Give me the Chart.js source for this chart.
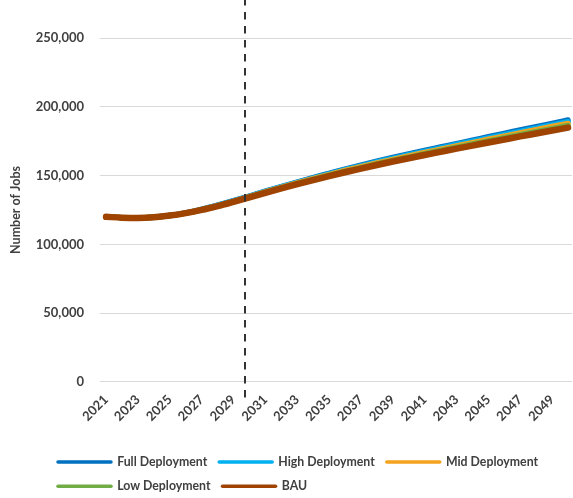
<!DOCTYPE html>
<html>
<head>
<meta charset="utf-8">
<script src="https://cdn.jsdelivr.net/npm/chart.js@4/dist/chart.umd.min.js"></script>
<style>
  html, body { margin: 0; padding: 0; background: #fff; overflow: hidden; }
  canvas { display: block; }
</style>
</head>
<body>
<canvas id="jobs" width="573" height="498"></canvas>
<script>
// Projection years
const years = [2021, 2022, 2023, 2024, 2025, 2026, 2027, 2028, 2029, 2030,
               2031, 2032, 2033, 2034, 2035, 2036, 2037, 2038, 2039, 2040,
               2041, 2042, 2043, 2044, 2045, 2046, 2047, 2048, 2049, 2050];

// Labelled years on the horizontal axis
const tickYears = [2021, 2023, 2025, 2027, 2029, 2031, 2033, 2035, 2037, 2039,
                   2041, 2043, 2045, 2047, 2049];

// Number of jobs per scenario
const fullDeployment = [120000, 119400, 119200, 119700, 121000, 122900, 125400, 128400, 131700, 135100,
                        138600, 142000, 145300, 148500, 151600, 154700, 157600, 160400, 163100, 165700,
                        168250, 170750, 173250, 175700, 178250, 180650, 183150, 185500, 187950, 190350];
const highDeployment = [120000, 119400, 119200, 119700, 121000, 122900, 125300, 128300, 131500, 134900,
                        138400, 141700, 145000, 148100, 151200, 154200, 157100, 159900, 162500, 165100,
                        167550, 170050, 172550, 174900, 177350, 179750, 182150, 184500, 186850, 189150];
const midDeployment  = [120000, 119400, 119200, 119700, 120900, 122800, 125200, 128100, 131300, 134600,
                        138100, 141400, 144600, 147700, 150700, 153700, 156500, 159200, 161800, 164300,
                        166750, 169150, 171550, 173900, 176350, 178650, 181050, 183300, 185650, 187850];
const lowDeployment  = [120000, 119400, 119200, 119700, 120900, 122700, 125100, 127900, 131100, 134400,
                        137700, 141000, 144100, 147200, 150200, 153000, 155800, 158400, 161000, 163400,
                        165850, 168250, 170550, 172900, 175150, 177450, 179750, 181900, 184150, 186350];
const bau            = [120000, 119400, 119200, 119700, 120900, 122700, 125000, 127800, 130900, 134100,
                        137400, 140600, 143700, 146700, 149600, 152400, 155100, 157700, 160200, 162600,
                        164950, 167250, 169550, 171800, 174050, 176250, 178450, 180600, 182750, 184850];

// Year at which the policy divider is drawn
const dividerYear = 2029.7;

const textColor = '#404040';
const fontFamily = 'Lato, "Open Sans", sans-serif';

function series(label, values, color, width, order) {
  return {
    label,
    data: years.map((y, i) => ({ x: y, y: values[i] })),
    borderColor: color,
    backgroundColor: color,
    borderWidth: width,
    pointRadius: 0,
    cubicInterpolationMode: 'monotone',
    borderCapStyle: 'round',
    borderJoinStyle: 'round',
    clip: false,
    order
  };
}

// Vertical dashed divider line
const dividerPlugin = {
  id: 'divider',
  afterDatasetsDraw(chart) {
    const { ctx, chartArea, scales } = chart;
    const x = Math.round(scales.x.getPixelForValue(dividerYear));
    ctx.save();
    ctx.strokeStyle = '#333333';
    ctx.lineWidth = 2;
    ctx.setLineDash([7.5, 6.5]);
    ctx.beginPath();
    ctx.moveTo(x, chartArea.top - 40);
    ctx.lineTo(x, chartArea.bottom + 16);
    ctx.stroke();
    ctx.restore();
  }
};

// Indent the legend block and nudge it down
const legendPlace = {
  id: 'legendPlace',
  afterLayout(chart) {
    const lg = chart.legend;
    if (lg) {
      lg.left += 46;
      lg.top += 4.5;
      lg.bottom += 4.5;
    }
  }
};

new Chart(document.getElementById('jobs'), {
  type: 'line',
  data: {
    datasets: [
      series('Full Deployment', fullDeployment, '#0070C0', 5.5, 4),
      series('High Deployment', highDeployment, '#00B0F0', 5.5, 3),
      series('Mid Deployment', midDeployment, '#F5A31F', 5.5, 2),
      series('Low Deployment', lowDeployment, '#70AD47', 5.5, 1),
      series('BAU', bau, '#9E4300', 6.5, 0)
    ]
  },
  options: {
    responsive: false,
    animation: false,
    events: [],
    layout: { padding: { top: 38, right: 1, left: 0, bottom: 0 } },
    plugins: {
      tooltip: { enabled: false },
      legend: {
        position: 'bottom',
        align: 'start',
        labels: {
          usePointStyle: true,
          pointStyle: 'line',
          pointStyleWidth: 53,
          padding: 12,
          color: textColor,
          font: { family: fontFamily, size: 12.3, weight: 'bold' },
          sort: (a, b) => a.datasetIndex - b.datasetIndex,
          generateLabels: chart => Chart.defaults.plugins.legend.labels.generateLabels(chart)
            .map(item => Object.assign(item, { lineWidth: 3.5, lineCap: 'round' }))
        }
      }
    },
    scales: {
      x: {
        type: 'linear',
        min: 2020.62,
        max: 2050.25,
        grid: { display: false },
        border: { display: false },
        afterFit: scale => { scale.height = 57.5; },
        afterBuildTicks: scale => { scale.ticks = tickYears.map(v => ({ value: v })); },
        ticks: {
          autoSkip: false,
          minRotation: 45,
          maxRotation: 45,
          padding: 2,
          color: textColor,
          font: { family: fontFamily, size: 13, weight: 'bold' },
          callback: v => String(v)
        }
      },
      y: {
        min: 0,
        max: 250000,
        border: { display: false },
        grid: { color: '#d9d9d9', lineWidth: 1, drawTicks: false },
        afterFit: scale => { scale.width = 100; },
        ticks: {
          stepSize: 50000,
          padding: 16,
          color: textColor,
          font: { family: fontFamily, size: 13, weight: 'bold' },
          callback: v => v.toLocaleString('en-US')
        },
        title: {
          display: true,
          text: 'Number of Jobs',
          color: textColor,
          font: { family: fontFamily, size: 12.5, weight: 'bold' },
          padding: { top: 8, bottom: 0 }
        }
      }
    }
  },
  plugins: [dividerPlugin, legendPlace]
});
</script>
</body>
</html>
